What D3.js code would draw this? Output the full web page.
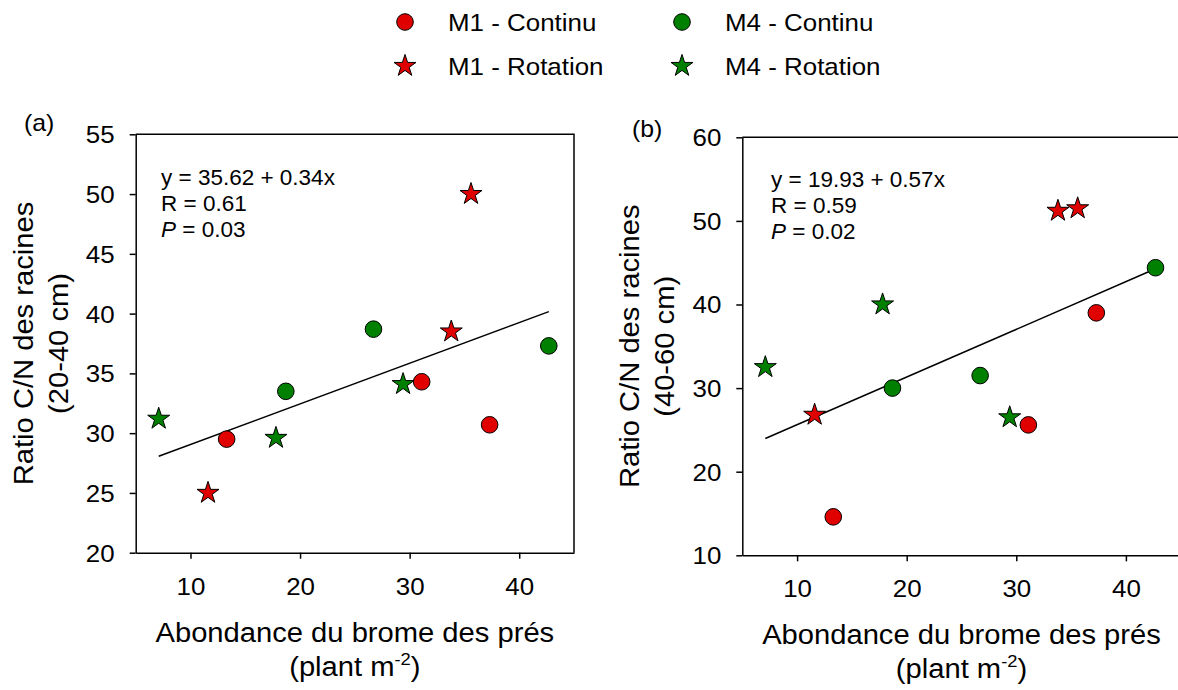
<!DOCTYPE html>
<html>
<head>
<meta charset="utf-8">
<script src="https://cdn.jsdelivr.net/npm/d3@7"></script>
<style>
  body { margin: 0; background: #fff; }
  svg { display: block; font-family: "Liberation Sans", Arial, sans-serif; }
</style>
</head>
<body>
<div id="chart"></div>
<script>
// series: x = brome abundance, yA = C/N 20-40 cm, yB = C/N 40-60 cm
const seriesNames = ["M1 - Continu", "M4 - Continu", "M1 - Rotation", "M4 - Rotation"];
const seriesColors = ["#e00000", "#008000", "#e00000", "#008000"];
const seriesShapes = ["circle", "circle", "star", "star"];

const m1ContX = [13.3, 31.1, 37.3];
const m1ContA = [29.5, 34.3, 30.7];
const m1ContB = [14.6, 25.6, 39.0];

const m4ContX = [18.7, 26.7, 42.7];
const m4ContA = [33.5, 38.7, 37.3];
const m4ContB = [30.0, 31.5, 44.4];

const m1RotX = [11.6, 33.8, 35.6];
const m1RotA = [25.0, 38.5, 50.0];
const m1RotB = [26.8, 51.2, 51.5];

const m4RotX = [7.1, 17.8, 29.4];
const m4RotA = [31.2, 29.6, 34.1];
const m4RotB = [32.5, 40.0, 26.5];

const xTicks = [10, 20, 30, 40];
const yTicksA = [20, 25, 30, 35, 40, 45, 50, 55];
const yTicksB = [10, 20, 30, 40, 50, 60];

// regression lines as drawn [intercept, slope]
const fitA = [25.65, 0.34];
const fitB = [19.93, 0.57];
const eqTextA = ["y = 35.62 + 0.34x", "R = 0.61", "0.03"];
const eqTextB = ["y = 19.93 + 0.57x", "R = 0.59", "0.02"];

const width = 1178, height = 690;
const SX = 1.08; // horizontal stretch of the original lettering

const svg = d3.select("#chart").append("svg")
    .attr("width", width)
    .attr("height", height);

function label(g, x, y, str, size, opts = {}) {
    const rot = opts.rotate ? " rotate(-90)" : "";
    const sx = opts.sx == null ? SX : opts.sx;
    return g.append("text")
        .attr("transform", `translate(${x},${y})${rot} scale(${sx},1)`)
        .attr("text-anchor", opts.anchor || "start")
        .attr("font-size", size)
        .attr("fill", "#000")
        .text(str);
}

function symbolPath(shape) {
    return shape === "star"
        ? d3.symbol().type(d3.symbolStar).size(150)()
        : d3.symbol().type(d3.symbolCircle).size(Math.PI * 8.3 * 8.3)();
}

const panels = [
    {
        tag: "(a)", tagX: 24, tagY: 131,
        left: 135.7, right: 574, top: 134.3, bottom: 552.7,
        yDomain: [20, 55], yTicks: yTicksA,
        ys: [m1ContA, m4ContA, m1RotA, m4RotA],
        fit: fitA, eq: eqTextA, eqX: 161, eqY: 184.5,
        yTitle: ["Ratio C/N des racines", "(20-40 cm)"]
    },
    {
        tag: "(b)", tagX: 632, tagY: 136.5,
        left: 742.3, right: 1180.7, top: 137.3, bottom: 555.3,
        yDomain: [10, 60], yTicks: yTicksB,
        ys: [m1ContB, m4ContB, m1RotB, m4RotB],
        fit: fitB, eq: eqTextB, eqX: 771, eqY: 186.5,
        yTitle: ["Ratio C/N des racines", "(40-60 cm)"]
    }
];

const xs = [m1ContX, m4ContX, m1RotX, m4RotX];

panels.forEach(p => {
    const g = svg.append("g");
    const x = d3.scaleLinear().domain([5, 45]).range([p.left, p.right]);
    const y = d3.scaleLinear().domain(p.yDomain).range([p.bottom, p.top]);

    // frame (top and right)
    g.append("path")
        .attr("d", `M${p.left},${p.top}H${p.right}V${p.bottom}`)
        .attr("fill", "none")
        .attr("stroke", "#000")
        .attr("stroke-width", 1.5);

    const xAxis = g.append("g")
        .attr("transform", `translate(0,${p.bottom})`)
        .call(d3.axisBottom(x).tickValues(xTicks).tickSize(6).tickSizeOuter(0));
    xAxis.selectAll("text")
        .attr("y", null).attr("dy", null)
        .attr("transform", `translate(0,42) scale(${SX},1)`)
        .attr("font-size", 24)
        .attr("fill", "#000");

    const yAxis = g.append("g")
        .attr("transform", `translate(${p.left},0)`)
        .call(d3.axisLeft(y).tickValues(p.yTicks).tickSize(6).tickSizeOuter(0));
    yAxis.selectAll("text")
        .attr("x", null)
        .attr("dy", "0.35em")
        .attr("transform", `translate(-21,0) scale(${SX},1)`)
        .attr("font-size", 24)
        .attr("fill", "#000");

    [xAxis, yAxis].forEach(a => {
        a.attr("font-family", null);
        a.selectAll("path, line").attr("stroke", "#000").attr("stroke-width", 1.5);
    });

    // regression line over the data range
    const xr = d3.extent(xs.flat());
    g.append("line")
        .attr("x1", x(xr[0])).attr("y1", y(p.fit[0] + p.fit[1] * xr[0]))
        .attr("x2", x(xr[1])).attr("y2", y(p.fit[0] + p.fit[1] * xr[1]))
        .attr("stroke", "#000")
        .attr("stroke-width", 1.5);

    // points
    seriesNames.forEach((name, i) => {
        g.append("g").selectAll("path")
            .data(xs[i].map((v, j) => [v, p.ys[i][j]]))
            .enter().append("path")
            .attr("d", symbolPath(seriesShapes[i]))
            .attr("transform", d => `translate(${x(d[0])},${y(d[1])})`)
            .attr("fill", seriesColors[i])
            .attr("stroke", "#000")
            .attr("stroke-width", 1);
    });

    // equation
    label(g, p.eqX, p.eqY, p.eq[0], 22.5, {sx: 1});
    label(g, p.eqX, p.eqY + 26, p.eq[1], 22.5, {sx: 1});
    const pt = label(g, p.eqX, p.eqY + 52, "", 22.5, {sx: 1});
    pt.append("tspan").attr("font-style", "italic").text("P");
    pt.append("tspan").text(" = " + p.eq[2]);

    // panel tag
    label(g, p.tagX, p.tagY, p.tag, 23);

    // y title
    const cy = (p.top + p.bottom) / 2;
    label(g, p.left - 103, cy, p.yTitle[0], 27, {rotate: true, anchor: "middle"});
    label(g, p.left - 68, cy, p.yTitle[1], 27, {rotate: true, anchor: "middle"});

    // x title
    const cx = (p.left + p.right) / 2;
    label(g, cx, p.bottom + 89, "Abondance du brome des prés", 27, {anchor: "middle"});
    const t2 = label(g, cx, p.bottom + 123, "(plant m", 27, {anchor: "middle"});
    t2.append("tspan").attr("font-size", 17).attr("dy", -11).text("-2");
    t2.append("tspan").attr("dy", 11).text(")");
});

// legend
const legend = svg.append("g");
const legCols = [405, 682], legRows = [22, 66];
seriesNames.forEach((name, i) => {
    const cx = legCols[i % 2], cy = legRows[Math.floor(i / 2)];
    legend.append("path")
        .attr("d", symbolPath(seriesShapes[i]))
        .attr("transform", `translate(${cx},${cy})`)
        .attr("fill", seriesColors[i])
        .attr("stroke", "#000")
        .attr("stroke-width", 1);
    label(legend, cx + 43, cy + 8.5, name, 24);
});
</script>
</body>
</html>
